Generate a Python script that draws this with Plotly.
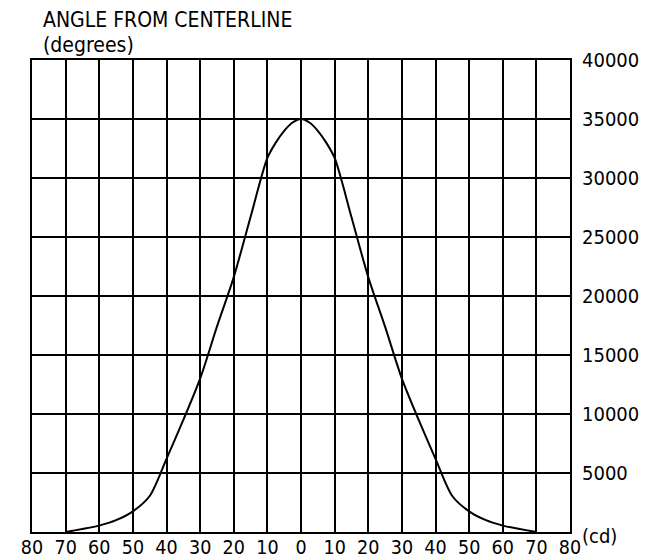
import plotly.graph_objects as go

# Data
angles = [-70, -65, -60, -55, -50, -45, -40, -35, -30, -25, -20, -15, -10, -7.5, -5, -2.5,
          0, 2.5, 5, 7.5, 10, 15, 20, 25, 30, 35, 40, 45, 50, 55, 60, 65, 70]
intensity_cd = [0, 250, 540, 1000, 1750, 3050, 6200, 9500, 13000, 17400, 21600, 26700, 31700, 33000, 34000, 34700,
                35000, 34700, 34000, 33000, 31700, 26700, 21600, 17400, 13000, 9500, 6200, 3050, 1750, 1000, 540, 250, 0]
x_tick_vals = [-80, -70, -60, -50, -40, -30, -20, -10, 0, 10, 20, 30, 40, 50, 60, 70, 80]
x_tick_text = ["80", "70", "60", "50", "40", "30", "20", "10", "0", "10", "20", "30", "40", "50", "60", "70", "80"]
y_tick_vals = [5000, 10000, 15000, 20000, 25000, 30000, 35000, 40000]
y_tick_text = ["5000", "10000", "15000", "20000", "25000", "30000", "35000", "40000"]

FONT = "DejaVu Sans Condensed, Liberation Sans Narrow, DejaVu Sans, sans-serif"

fig = go.Figure()
fig.add_trace(go.Scatter(
    x=angles, y=intensity_cd, mode="lines",
    line=dict(color="black", width=2, shape="spline", smoothing=0.8),
    hoverinfo="skip", showlegend=False,
))

fig.update_layout(
    width=640, height=552,
    margin=dict(l=24, r=78, t=52, b=28, autoexpand=False),
    paper_bgcolor="white", plot_bgcolor="white",
    font=dict(family=FONT, size=20, color="black"),
    xaxis=dict(
        range=[-80, 80], tickvals=x_tick_vals, ticktext=x_tick_text,
        showgrid=True, gridcolor="black", gridwidth=1.8,
        showline=True, linecolor="black", linewidth=2, mirror=True,
        zeroline=False, ticks="", ticklabelstandoff=-3, automargin=False,
        tickfont=dict(family=FONT, size=19.5, color="black"),
        fixedrange=True,
    ),
    yaxis=dict(
        range=[0, 40000], tickvals=y_tick_vals, ticktext=y_tick_text, side="right",
        showgrid=True, gridcolor="black", gridwidth=1.8,
        showline=True, linecolor="black", linewidth=2, mirror=True,
        zeroline=False, ticks="", ticklabelstandoff=6, automargin=False,
        tickfont=dict(family=FONT, size=20, color="black"),
        fixedrange=True,
    ),
    annotations=[
        dict(text="ANGLE FROM CENTERLINE", xref="paper", yref="paper", x=0.0173, y=1.0847,
             xanchor="left", yanchor="middle", showarrow=False,
             font=dict(family=FONT, size=21, color="black")),
        dict(text="(degrees)", xref="paper", yref="paper", x=0.0173, y=1.0328,
             xanchor="left", yanchor="middle", showarrow=False,
             font=dict(family=FONT, size=21, color="black")),
        dict(text="(cd)", xref="paper", yref="paper", x=1.018, y=-0.008,
             xanchor="left", yanchor="middle", showarrow=False,
             font=dict(family=FONT, size=20, color="black")),
    ],
)

fig.write_html("out.html")
